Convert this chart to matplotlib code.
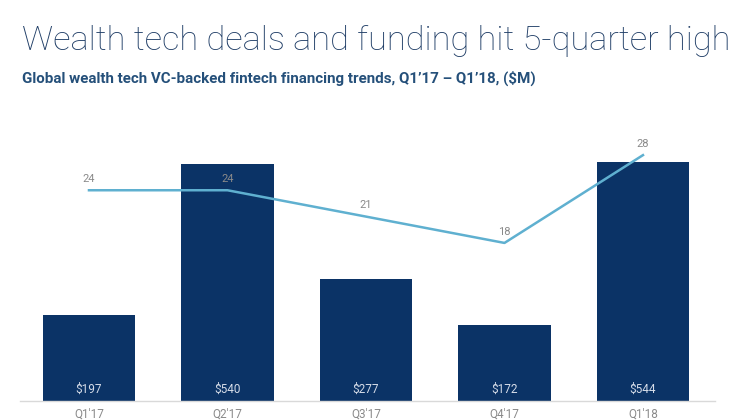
import matplotlib.pyplot as plt
from matplotlib import font_manager

quarters = ["Q1'17", "Q2'17", "Q3'17", "Q4'17", "Q1'18"]
funding = [197, 540, 277, 172, 544]   # $M
deals = [24, 24, 21, 18, 28]

navy = '#0b3366'
line_blue = '#5fb0d0'
grey = '#8a8a8a'

names = set(f.name for f in font_manager.fontManager.ttflist)
narrow = 'Liberation Sans Narrow' if 'Liberation Sans Narrow' in names else 'Roboto'

fig = plt.figure(figsize=(7.4, 4.2), dpi=100)
ax = fig.add_axes([20 / 740, 19 / 420, 695 / 740, 281 / 420])

x = list(range(len(quarters)))
ax.bar(x, funding, width=0.665, color=navy, zorder=2)
for xi, v in zip(x, funding):
    ax.text(xi, 12, f"${v}", ha='center', va='bottom', color='#d5dce8',
            fontsize=8.5, family='Roboto', zorder=3)

ax.set_xlim(-0.498, 4.52)
ax.set_ylim(0, 640)
ax.set_xticks(x)
ax.set_xticklabels(quarters, color=grey, fontsize=8.5, family='Roboto')
ax.tick_params(axis='x', length=0, pad=5)
ax.set_yticks([])
for s in ['top', 'right', 'left']:
    ax.spines[s].set_visible(False)
ax.spines['bottom'].set_color('#d9d9d9')
ax.spines['bottom'].set_linewidth(1.0)

ax2 = ax.twinx()
ax2.plot(x, deals, color=line_blue, lw=1.8, zorder=4)
ax2.set_ylim(0, 32)
ax2.set_yticks([])
for s in ax2.spines.values():
    s.set_visible(False)
for xi, d in zip(x, deals):
    ax2.annotate(str(d), (xi, d), xytext=(0, 4.5), textcoords='offset points',
                 ha='center', va='bottom', color=grey, fontsize=8, family='Roboto')

title = fig.text(22 / 740, 1 - 41 / 420, "Wealth tech deals and funding hit 5-quarter high",
                 fontsize=29.5, color='#1f3d66', family=narrow, fontweight='light',
                 va='center', ha='left')
sub = fig.text(22 / 740, 1 - 78 / 420,
               "Global wealth tech VC-backed fintech financing trends, Q1\u201917 \u2013 Q1\u201918, ($M)",
               fontsize=11.5, color='#25507a', family=narrow, fontweight='bold',
               va='center', ha='left')

# shrink the headings so they span the same width as in the reference
r = fig.canvas.get_renderer()
for t, w in [(title, 708), (sub, 516)]:
    cur = t.get_window_extent(r).width
    t.set_fontsize(t.get_fontsize() * w / cur)

fig.savefig('out.png', dpi=100)
